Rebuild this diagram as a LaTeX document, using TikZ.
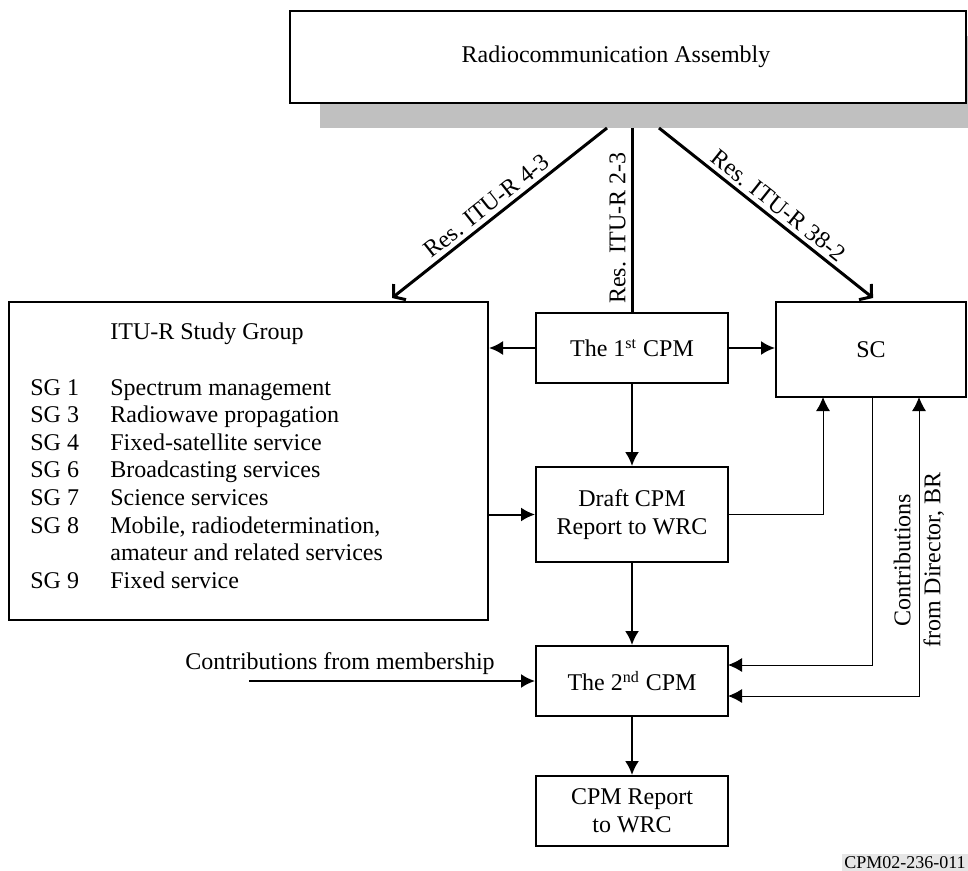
\documentclass[tikz,border=0pt]{standalone}
\usepackage{fontspec}
\setmainfont{Liberation Serif}
\usetikzlibrary{arrows.meta,calc}
\definecolor{shadowgray}{RGB}{192,192,192}
\definecolor{labelgray}{RGB}{230,230,230}
\begin{document}
\begin{tikzpicture}[x=0.5pt,y=-0.5pt,
  box/.style={draw,line width=1pt,fill=white,minimum width=96pt,minimum height=35pt,
    inner sep=0pt,align=center,font=\fontsize{12}{13.8}\selectfont},
  txt/.style={inner sep=0pt,font=\fontsize{12}{13.8}\selectfont},
  arr/.style={line width=1pt,-{Latex[length=7pt,width=7pt]}},
  thinarr/.style={line width=0.5pt,-{Latex[length=7pt,width=7pt]}},
  res/.style={line width=1.5pt},
  resarr/.style={line width=1.5pt,-{Straight Barb[length=4pt,width=10pt]}},
]
\useasboundingbox (0,0) rectangle (968,871);
% shadow and top box
\fill[shadowgray] (320,36) rectangle (968,128);
\node[box,minimum width=338pt,minimum height=46pt] (RA) at (628,57) {};
\node[txt] (RAtext) at (616,57) {Radiocommunication Assembly};

% boxes
\node[box,minimum width=239.5pt,minimum height=159pt] (ITU) at (248.5,461) {};
\node[txt,anchor=base west] (SGlist) at (30,340) {\begin{tabular}[t]{@{}p{40pt}@{}l@{}}
 & ITU-R Study Group\\
 & \\
SG 1 & Spectrum management\\
SG 3 & Radiowave propagation\\
SG 4 & Fixed-satellite service\\
SG 6 & Broadcasting services\\
SG 7 & Science services\\
SG 8 & Mobile, radiodetermination,\\
 & amateur and related services\\
SG 9 & Fixed service
\end{tabular}};
\node[box] (CPM1) at (632,348) {The 1\textsuperscript{st} CPM};
\node[box,minimum height=47.5pt] (Draft) at (632,514.5) {Draft CPM\\Report to WRC};
\node[box] (CPM2) at (632,681) {The 2\textsuperscript{nd} CPM};
\node[box] (Report) at (632,811) {CPM Report\\to WRC};
\node[box,minimum width=95pt,minimum height=47.5pt] (SC) at (871,349.5) {SC};

% resolution connectors
\coordinate (s1) at (607,128);
\coordinate (s2) at (632,128);
\coordinate (s3) at (659,128);
\coordinate (t1) at (392,298);
\coordinate (t3) at (873,298);
\draw[resarr] (s1) -- node[txt,sloped,above,inner sep=2pt,pos=0.52] (lab1) {Res. ITU-R 4-3} (t1);
\draw[resarr] (s3) -- node[txt,sloped,above,inner sep=2pt,pos=0.52] (lab3) {Res. ITU-R 38-2} (t3);
\draw[res] (s2) -- (CPM1.north);
\node[txt,rotate=90,anchor=south] (lab2) at (626,228) {Res. ITU-R 2-3};

% main flow
\draw[arr] (CPM1.west) -- (CPM1.west -| ITU.east);
\draw[arr] (CPM1.east) -- (CPM1.east -| SC.west);
\draw[arr] (CPM1) -- (Draft);
\draw[arr] (Draft.west -| ITU.east) -- (Draft.west);
\draw[arr] (Draft) -- (CPM2);
\draw[arr] (CPM2) -- (Report);

% right side feedback lines
\coordinate (sc1) at (823,397);
\coordinate (sc2) at (872,397);
\coordinate (sc3) at (919,397);
\coordinate (c2a) at (728,665);
\coordinate (c2b) at (728,696);
\draw[thinarr] (Draft.east) -| (sc1);
\draw[thinarr] (sc2) |- (c2a);
\draw[line width=0.5pt,{Latex[length=7pt,width=7pt]}-{Latex[length=7pt,width=7pt]}] (c2b) -| (sc3);
\node[txt,rotate=90,align=center,font=\fontsize{12}{15}\selectfont] (dir) at (919,560) {Contributions\\from Director, BR};

% membership
\coordinate (m0) at (249,681);
\draw[arr] (m0) -- (CPM2.west);
\node[txt] (memb) at (340,664) {Contributions from membership};

% figure id
\node[anchor=south east,inner sep=1pt,fill=labelgray,font=\fontsize{9}{10}\selectfont] (figid) at (968,871) {CPM02-236-011};
\end{tikzpicture}
\end{document}
